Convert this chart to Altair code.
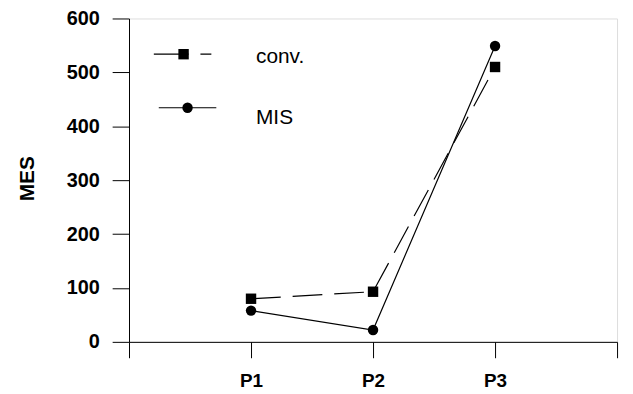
import altair as alt
import pandas as pd

periods = ["P1", "P2", "P3"]
period_pos = [1, 2, 3]
conv_values = [80, 93, 510]
mis_values = [58, 22, 549]
y_ticks = [0, 100, 200, 300, 400, 500, 600]
x_ticks = [0, 1, 2, 3, 4]

df = pd.DataFrame({
    "pos": period_pos * 2,
    "period": periods * 2,
    "series": ["conv."] * 3 + ["MIS"] * 3,
    "MES": conv_values + mis_values,
})

FONT = "Liberation Sans"

x_enc = alt.X("pos:Q", scale=alt.Scale(domain=[0, 4], nice=False, zero=False),
              axis=alt.Axis(values=x_ticks, title=None, grid=False,
                            labelExpr="datum.value==1?'P1':datum.value==2?'P2':datum.value==3?'P3':''",
                            tickSize=16, labelPadding=14, labelFont=FONT, labelFontSize=19,
                            labelColor="black", tickColor="black", domainColor="black",
                            labelFontWeight="bold"))
y_enc = alt.Y("MES:Q", scale=alt.Scale(domain=[0, 600], nice=False),
              axis=alt.Axis(values=y_ticks, title="MES", grid=False, tickSize=17, labelPadding=13,
                            labelFont=FONT, labelFontSize=20, labelColor="black", labelFontWeight="bold",
                            tickColor="black", domainColor="black",
                            titleFont=FONT, titleFontSize=21, titleFontWeight="bold",
                            titleColor="black", titleAngle=-90, titleX=-102, titleY=161,
                            titleAlign="center", titleBaseline="middle"))

base = alt.Chart(df)

conv_line = base.transform_filter(alt.datum.series == "conv.").mark_line(
    color="black", strokeWidth=1.2, strokeDash=[30, 12]).encode(x=x_enc, y=y_enc)
mis_line = base.transform_filter(alt.datum.series == "MIS").mark_line(
    color="black", strokeWidth=1.2).encode(x=x_enc, y=y_enc)
conv_pts = base.transform_filter(alt.datum.series == "conv.").mark_point(
    shape="square", filled=True, color="black", size=110, opacity=1).encode(x=x_enc, y=y_enc)
mis_pts = base.transform_filter(alt.datum.series == "MIS").mark_point(
    shape="circle", filled=True, color="black", size=110, opacity=1).encode(x=x_enc, y=y_enc)

one = alt.Data(values=[{"a": 1}])
leg_conv_line = alt.Chart(one).mark_rule(color="black", strokeWidth=1.2, strokeDash=[35, 12]).encode(
    x=alt.value(25), x2=alt.value(83), y=alt.value(36))
leg_conv_pt = alt.Chart(one).mark_point(shape="square", filled=True, color="black", size=110, opacity=1).encode(
    x=alt.value(55), y=alt.value(36))
leg_mis_line = alt.Chart(one).mark_rule(color="black", strokeWidth=1.2).encode(
    x=alt.value(30), x2=alt.value(88), y=alt.value(90))
leg_mis_pt = alt.Chart(one).mark_point(shape="circle", filled=True, color="black", size=110, opacity=1).encode(
    x=alt.value(59), y=alt.value(90))
leg_conv_txt = alt.Chart(one).mark_text(text="conv.", font=FONT, fontSize=21, align="left",
                                        baseline="alphabetic", color="black").encode(
    x=alt.value(128), y=alt.value(45))
leg_mis_txt = alt.Chart(one).mark_text(text="MIS", font=FONT, fontSize=21, align="left",
                                       baseline="alphabetic", color="black").encode(
    x=alt.value(128), y=alt.value(106))

chart = alt.layer(
    conv_line, mis_line, conv_pts, mis_pts,
    leg_conv_line, leg_conv_pt, leg_mis_line, leg_mis_pt, leg_conv_txt, leg_mis_txt
).properties(
    width=492, height=326,
    autosize=alt.AutoSizeParams(type="none"),
    padding={"left": 122, "top": 9, "right": 8, "bottom": 51},
).configure_view(stroke="black", strokeWidth=1.2).configure(background="white")

chart.save("out.html", embed_options={"renderer": "svg", "actions": False})
